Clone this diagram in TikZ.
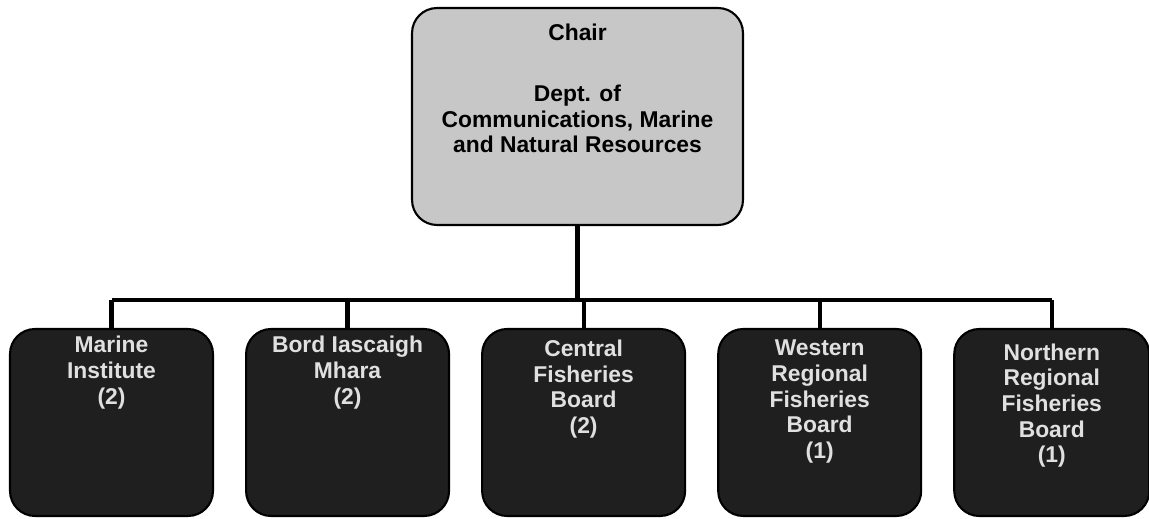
\documentclass[tikz,border=0pt]{standalone}
\usepackage{fontspec}
\setmainfont{Liberation Sans}
\usepackage{tikz}
\usetikzlibrary{positioning}
\usepackage[dvipsnames]{xcolor}

\newcommand{\unittext}[2]{\parbox[c][#1][t]{3.9cm}{\centering #2}}

\begin{document}
\begin{tikzpicture}[
x=0.02cm, y=-0.02cm,
every node/.style={rounded corners=0.5cm, draw=black, line width=1.2pt, inner sep=0, font=\fontsize{13}{14.6}\selectfont\bfseries},
chairbox/.style={fill=black!22, minimum width=6.62cm, minimum height=4.34cm},
unitbox/.style={fill=black!88, text=black!12, minimum width=4.06cm, minimum height=3.74cm},
wire/.style={line width=2.4pt},
node distance=0.62cm
]
\useasboundingbox (0,0) rectangle (1149,519);
\node[chairbox] (chair) at (577.5,116.5) {\parbox[c][3.7cm][t]{6.4cm}{\centering Chair\\[20pt] Dept. of\\ Communications, Marine\\ and Natural Resources}};
\node[unitbox] (u1) at (111.5,422.5) {\unittext{3.45cm}{Marine\\ Institute\\ (2)}};
\node[unitbox, right=of u1] (u2) {\unittext{3.45cm}{Bord Iascaigh\\ Mhara\\ (2)}};
\node[unitbox, right=of u2] (u3) {\unittext{3.3cm}{Central\\ Fisheries\\ Board\\ (2)}};
\node[unitbox, right=of u3] (u4) {\unittext{3.3cm}{Western\\ Regional\\ Fisheries\\ Board\\ (1)}};
\node[unitbox, right=of u4, minimum width=3.84cm] (u5) {\unittext{3.15cm}{Northern\\ Regional\\ Fisheries\\ Board\\ (1)}};
\coordinate (bus) at (572,300);
\draw[wire] (chair.south) -- (chair.south |- bus);
\draw[wire] (u1.north |- bus) -- (u5.north |- bus);
\foreach \n in {u1,u2,u3,u4,u5}
  \draw[wire] (\n.north |- bus) -- (\n.north);
\end{tikzpicture}
\end{document}
